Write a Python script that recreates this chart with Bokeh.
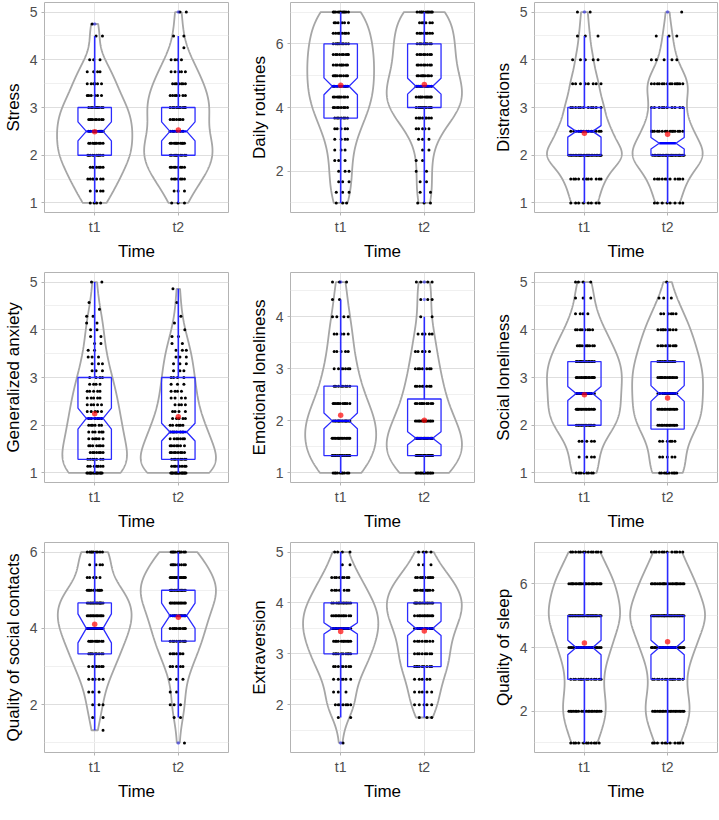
import numpy as np
from bokeh.plotting import figure
from bokeh.layouts import gridplot
from bokeh.models import Range1d, FixedTicker
from bokeh.embed import file_html
from bokeh.resources import INLINE

# ---------------- data ----------------
TITLES = ["Stress", "Daily routines", "Distractions",
          "Generalized anxiety", "Emotional loneliness", "Social loneliness",
          "Quality of social contacts", "Extraversion", "Quality of sleep"]
GROUPS = ["t1", "t2"]
X_TITLE = "Time"

# response levels: LEVEL_MIN + k / LEVEL_DEN, up to LEVEL_MAX
LEVEL_MIN = [1, 1, 1, 1, 1, 1, 1, 1.25, 1]
LEVEL_MAX = [5, 7, 5, 5, 14 / 3, 5, 6, 5, 7]
LEVEL_DEN = [4, 3, 2, 7, 3, 3, 3, 4, 1]

# number of respondents at each level (t1, t2)
COUNTS_T1 = [
    [4, 4, 7, 7, 10, 9, 10, 9, 9, 6, 6, 4, 3, 0, 2, 1, 0],
    [3, 3, 3, 3, 3, 3, 4, 5, 7, 8, 9, 9, 9, 9, 9, 9, 8, 6, 11],
    [8, 11, 24, 15, 11, 8, 5, 3, 2],
    [16, 7, 7, 7, 7, 6, 6, 6, 6, 5, 5, 5, 5, 4, 4, 3, 3, 3, 2, 2, 2, 2, 2, 2, 1, 1, 0, 0, 2],
    [10, 14, 15, 15, 11, 8, 7, 5, 5, 4, 2, 3],
    [8, 4, 5, 14, 14, 12, 15, 14, 10, 8, 4, 3, 4],
    [0, 1, 2, 3, 3, 5, 7, 9, 10, 13, 13, 14, 10, 5, 4, 9],
    [1, 0, 2, 7, 3, 6, 8, 10, 11, 13, 12, 12, 7, 8, 2, 4],
    [11, 20, 14, 22, 32, 26, 13],
]
COUNTS_T2 = [
    [3, 3, 7, 8, 10, 10, 6, 7, 10, 7, 7, 5, 4, 1, 2, 0, 2],
    [3, 2, 2, 2, 2, 2, 3, 5, 8, 11, 11, 11, 9, 8, 8, 9, 8, 6, 11],
    [8, 11, 25, 15, 10, 14, 5, 3, 1],
    [18, 8, 8, 8, 7, 7, 6, 6, 5, 4, 4, 4, 4, 3, 4, 3, 3, 3, 3, 2, 2, 1, 1, 1, 0, 1, 0, 1, 0],
    [13, 18, 18, 13, 10, 8, 7, 5, 5, 2, 3, 4],
    [10, 5, 6, 13, 13, 12, 14, 12, 10, 9, 6, 3, 1],
    [1, 0, 2, 3, 2, 3, 5, 7, 9, 10, 11, 13, 16, 14, 9, 10],
    [0, 0, 3, 5, 5, 5, 9, 8, 8, 10, 12, 14, 11, 10, 3, 4],
    [11, 21, 14, 23, 35, 24, 12],
]

# box-plot statistics per panel: [t1, t2]
Q1 = [[2, 2], [11 / 3, 4], [2, 2], [9 / 7, 9 / 7], [4 / 3, 4 / 3],
      [2, 1.92], [10 / 3, 11 / 3], [3, 2.75], [3, 3]]
MEDIAN = [[2.5, 2.5], [14 / 3, 14 / 3], [2.5, 2.25], [15 / 7, 13 / 7], [2, 5 / 3],
          [8 / 3, 8 / 3], [4, 13 / 3], [3.5, 3.5], [4, 4]]
Q3 = [[3, 3], [6, 6], [3, 3], [3, 3], [8 / 3, 2.42],
      [10 / 3, 10 / 3], [14 / 3, 5], [4, 4], [5, 5]]
NOTCH_LO = [[2.3, 2.3], [4.4, 4.42], [2.38, 2.13], [1.92, 1.67], [1.85, 1.54],
            [2.52, 2.5], [3.62, 4.0], [3.39, 3.36], [3.77, 3.77]]
NOTCH_HI = [[2.7, 2.7], [4.93, 4.92], [2.62, 2.37], [2.36, 2.04], [2.15, 1.79],
            [2.81, 2.83], [4.38, 4.66], [3.61, 3.64], [4.23, 4.23]]
WHISK_LO = [[1, 1], [1, 1], [1, 1], [1, 1], [1, 1],
            [1, 1], [4 / 3, 5 / 3], [1.75, 1.75], [1, 1]]
WHISK_HI = [[4.5, 4.5], [7, 7], [4.5, 4.5], [5, 34 / 7], [13 / 3, 4],
            [5, 5], [6, 6], [5, 5], [7, 7]]
OUTLIERS = [[[4.75], [5]], [[], []], [[5], [5]], [[], []], [[14 / 3], [13 / 3, 14 / 3]],
            [[], []], [[], [1]], [[1.25], []], [[], []]]
MEANS = [[2.49, 2.53], [4.70, 4.72], [2.46, 2.44], [2.24, 2.18], [2.11, 2.01],
         [2.64, 2.57], [4.11, 4.29], [3.44, 3.45], [4.14, 4.18]]

Y_MAJOR = [[1, 2, 3, 4, 5], [2, 4, 6], [1, 2, 3, 4, 5], [1, 2, 3, 4, 5], [1, 2, 3, 4],
           [1, 2, 3, 4, 5], [2, 4, 6], [2, 3, 4, 5], [2, 4, 6]]
Y_MINOR = [[1.5, 2.5, 3.5, 4.5], [1, 3, 5, 7], [1.5, 2.5, 3.5, 4.5], [1.5, 2.5, 3.5, 4.5],
           [1.5, 2.5, 3.5, 4.5], [1.5, 2.5, 3.5, 4.5], [1, 3, 5], [1.5, 2.5, 3.5, 4.5], [1, 3, 5, 7]]

# ---------------- styling ----------------
JITTER_W = [0.1, 0.1, 0.2, 0.1, 0.11, 0.12, 0.1, 0.12, 0.2]
FONT = "Liberation Sans"
COL_LEFT = [38, 38, 40]
COL_FRAME = [184, 184, 183]
COL_RIGHT = [18, 16, 2]
ROW_BOTTOM = [58, 58, 52]
FRAME_H = 210
BOX_HW = 0.2
NOTCH_HW = 0.1
VIOLIN_W = 0.9
BLUE = "#2B2BFF"


def kde(levels, counts, grid):
    sample = np.repeat(levels, counts)
    n = len(sample)
    sd = np.std(sample, ddof=1)
    iqr = np.percentile(sample, 75) - np.percentile(sample, 25)
    lo = min(sd, iqr / 1.34) if iqr > 0 else sd
    bw = 0.9 * lo * n ** (-0.2)
    d = np.zeros_like(grid)
    for v, c in zip(levels, counts):
        if c:
            d += c * np.exp(-0.5 * ((grid - v) / bw) ** 2)
    return d / (n * bw * np.sqrt(2 * np.pi))


def make_panel(i):
    r, c = divmod(i, 3)
    den = LEVEL_DEN[i]
    nlev = int(round((LEVEL_MAX[i] - LEVEL_MIN[i]) * den)) + 1
    levels = LEVEL_MIN[i] + np.arange(nlev) / den
    counts = [np.array(COUNTS_T1[i]), np.array(COUNTS_T2[i])]

    present = [levels[cnt > 0] for cnt in counts]
    lo = min(pr.min() for pr in present)
    hi = max(pr.max() for pr in present)
    pad = 0.05 * (hi - lo)

    p = figure(x_range=Range1d(0.4, 2.6), y_range=Range1d(lo - pad, hi + pad),
               frame_width=COL_FRAME[c], frame_height=FRAME_H,
               min_border_left=COL_LEFT[c], min_border_right=COL_RIGHT[c],
               min_border_top=2, min_border_bottom=ROW_BOTTOM[r],
               output_backend="svg", toolbar_location=None)

    # violins (scale = "area" within a panel)
    grids, dens = [], []
    for g in range(2):
        grid = np.linspace(present[g].min(), present[g].max(), 512)
        grids.append(grid)
        dens.append(kde(levels, counts[g], grid))
    dmax = max(d.max() for d in dens)
    for g in range(2):
        xc = g + 1
        hw = dens[g] / dmax * VIOLIN_W / 2
        xs = np.concatenate([xc - hw, (xc + hw)[::-1]])
        ys = np.concatenate([grids[g], grids[g][::-1]])
        p.patch(x=xs, y=ys, fill_alpha=0, line_color="#A6A6A6", line_width=1.8)

    # jittered points
    for g in range(2):
        xs, ys = [], []
        for k, (v, cnt) in enumerate(zip(levels, counts[g])):
            for j in range(int(cnt)):
                u = ((j + 1) * 0.6180339887 + k * 0.3819 + g * 0.25) % 1.0
                xs.append(g + 1 + (2 * u - 1) * JITTER_W[i])
                ys.append(float(v))
        p.scatter(x=xs, y=ys, size=3.0, fill_color="black", line_color=None)

    # notched box plots
    for g in range(2):
        xc = g + 1
        q1, md, q3 = Q1[i][g], MEDIAN[i][g], Q3[i][g]
        nl, nh = NOTCH_LO[i][g], NOTCH_HI[i][g]
        bx = [xc - BOX_HW, xc - BOX_HW, xc - NOTCH_HW, xc - BOX_HW, xc - BOX_HW,
              xc + BOX_HW, xc + BOX_HW, xc + NOTCH_HW, xc + BOX_HW, xc + BOX_HW]
        by = [q1, nl, md, nh, q3, q3, nh, md, nl, q1]
        p.patch(x=bx, y=by, fill_alpha=0, line_color=BLUE, line_width=1.3)
        p.segment(x0=[xc, xc], y0=[WHISK_LO[i][g], q3], x1=[xc, xc], y1=[q1, WHISK_HI[i][g]],
                  line_color=BLUE, line_width=1.6)
        p.segment(x0=[xc - NOTCH_HW], y0=[md], x1=[xc + NOTCH_HW], y1=[md],
                  line_color="#0000FF", line_width=2.4)
        if OUTLIERS[i][g]:
            p.scatter(x=[xc] * len(OUTLIERS[i][g]), y=OUTLIERS[i][g], size=3.5,
                      fill_color="blue", fill_alpha=0.45, line_color=None)
        p.scatter(x=[xc], y=[MEANS[i][g]], size=5.5, fill_color="red",
                  fill_alpha=0.7, line_color=None)

    # axes / theme (light)
    p.xaxis.ticker = FixedTicker(ticks=[1, 2])
    p.xaxis.major_label_overrides = {1: GROUPS[0], 2: GROUPS[1]}
    p.yaxis.ticker = FixedTicker(ticks=Y_MAJOR[i], minor_ticks=Y_MINOR[i])
    p.xaxis.axis_label = X_TITLE
    p.yaxis.axis_label = TITLES[i]
    for ax in (p.xaxis[0], p.yaxis[0]):
        ax.axis_line_color = None
        ax.major_tick_line_color = "#B3B3B3"
        ax.major_tick_out = 3
        ax.major_tick_in = 0
        ax.minor_tick_line_color = None
        ax.major_label_text_font = FONT
        ax.major_label_text_font_size = "14px"
        ax.major_label_text_color = "#4D4D4D"
        ax.major_label_standoff = 3
        ax.axis_label_text_font = FONT
        ax.axis_label_text_font_size = "17px"
        ax.axis_label_text_font_style = "normal"
        ax.axis_label_text_color = "black"
        ax.axis_label_standoff = 4
    p.outline_line_color = "#B3B3B3"
    p.outline_line_width = 1
    p.xgrid.grid_line_color = "#E3E3E3"
    p.ygrid.grid_line_color = "#DEDEDE"
    p.ygrid.minor_grid_line_color = "#F0F0F0"
    return p


panels = [make_panel(i) for i in range(9)]
layout = gridplot([panels[0:3], panels[3:6], panels[6:9]], toolbar_location=None)

open("out.html", "w").write(file_html(layout, INLINE))
